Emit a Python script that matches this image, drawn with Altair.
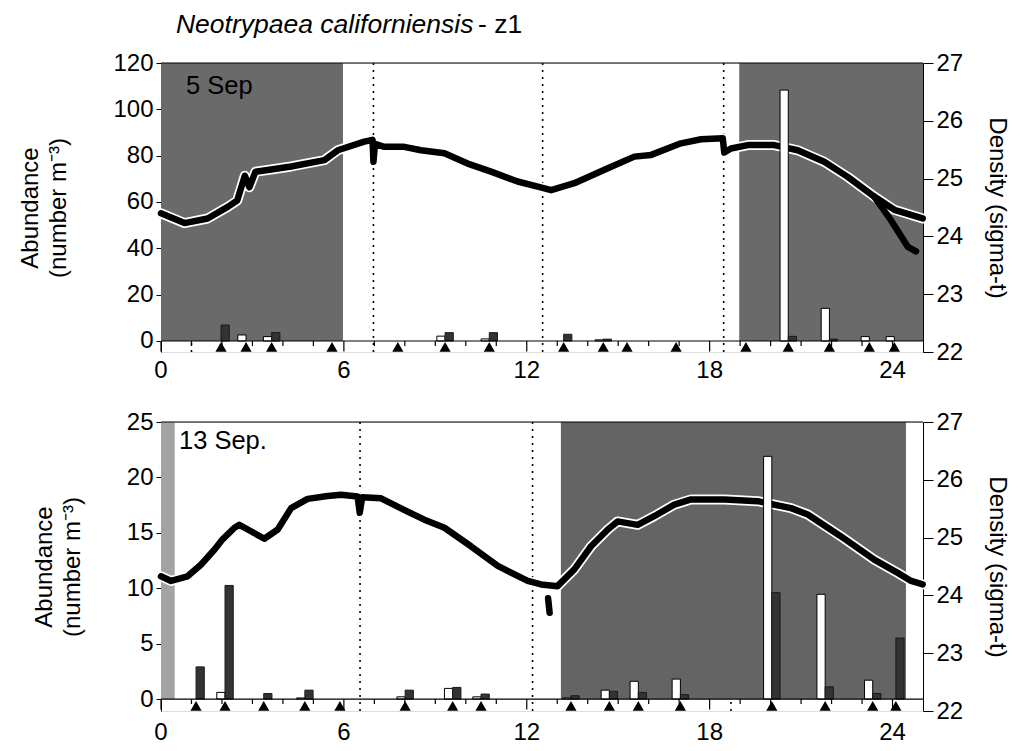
import altair as alt
import pandas as pd

FONT = "Liberation Sans"
X_DOMAIN = [0, 25]
X_LABELS = [0, 6, 12, 18, 24]
HOUR_TICKS = list(range(0, 25))
MAJOR_TICKS = [0, 6, 12, 18, 24]
BAR_W = 0.27
DENS_DOMAIN = [22, 27]
DENS_TICKS = [22, 23, 24, 25, 26, 27]

# ---------------- 5 Sep ----------------
A_NIGHT_START = [0.0, 18.97]
A_NIGHT_END = [5.97, 25.0]
A_NIGHT_COLOR = ["#6a6a6a", "#6a6a6a"]
A_TIDE = [1.0, 6.97, 12.52, 18.46]
A_SAMPLE_T = [1.97, 2.79, 3.63, 5.61, 7.77, 9.32, 10.77, 13.21, 14.51, 15.29,
              16.90, 19.19, 20.58, 21.93, 23.24, 24.06]
A_WHITE = [0, 2.6, 1.9, 0, 0, 2.1, 0.9, 0, 0.5, 0, 0, 0, 108.3, 14.1, 1.9, 1.9]
A_DARK = [6.9, 0, 3.6, 0, 0, 3.6, 3.6, 2.9, 0.8, 0, 0, 0, 2.0, 0.8, 0, 0]
A_DENS_T = [0, 0.77, 1.53, 2.19, 2.50, 2.75, 2.90, 3.10, 3.50, 4.27, 5.36, 5.80,
            6.67, 6.94, 6.97, 7.02, 7.33, 7.98, 8.53, 9.30, 10.06, 10.83, 11.70,
            12.36, 12.80, 13.56, 14.66, 15.53, 16.08, 17.06, 17.72, 18.43, 18.48,
            18.70, 19.25, 20.12, 20.89, 21.76, 22.53, 23.40, 24.06, 24.99]
A_DENS = [24.40, 24.23, 24.31, 24.51, 24.62, 25.05, 24.85, 25.12, 25.15, 25.21,
          25.32, 25.49, 25.64, 25.67, 25.29, 25.60, 25.55, 25.55, 25.49, 25.44,
          25.26, 25.12, 24.95, 24.86, 24.80, 24.92, 25.18, 25.38, 25.41, 25.61,
          25.68, 25.70, 25.45, 25.52, 25.58, 25.58, 25.49, 25.29, 25.03, 24.69,
          24.46, 24.31]
A_BRANCH_T = [23.40, 23.95, 24.50, 24.77]
A_BRANCH = [24.69, 24.28, 23.82, 23.74]
A_AB_DOMAIN = [-4.75, 120]
A_AB_TICKS = [0, 20, 40, 60, 80, 100, 120]

# ---------------- 13 Sep ----------------
B_NIGHT_START = [0.0, 13.12]
B_NIGHT_END = [0.45, 24.44]
B_NIGHT_COLOR = ["#a3a3a3", "#646464"]
B_TIDE = [6.53, 12.19, 18.70]
B_SAMPLE_T = [1.15, 2.10, 3.37, 4.72, 5.87, 8.01, 9.57, 10.50, 13.45, 14.71,
              15.66, 17.04, 20.04, 21.79, 23.35, 24.11]
B_WHITE = [0, 0.6, 0, 0.1, 0, 0.2, 0.96, 0.2, 0.1, 0.8, 1.6, 1.8, 21.9, 9.45, 1.7, 0]
B_DARK = [2.9, 10.25, 0.5, 0.8, 0, 0.8, 1.05, 0.45, 0.3, 0.7, 0.6, 0.4, 9.6, 1.1, 0.5, 5.5]
B_DENS_T = [0, 0.33, 0.87, 1.31, 1.75, 2.02, 2.41, 2.57, 2.95, 3.39, 3.83, 4.27,
            4.81, 5.47, 5.91, 6.45, 6.52, 6.60, 7.22, 8.09, 8.64, 9.30, 10.17,
            11.05, 12.03, 12.47, 13.01, 13.56, 14.11, 14.66, 14.98, 15.64, 16.18,
            16.84, 17.39, 18.48, 19.58, 20.67, 21.22, 22.31, 23.40, 24.17, 24.61,
            24.99]
B_DENS = [24.33, 24.25, 24.33, 24.53, 24.79, 24.97, 25.17, 25.22, 25.11, 24.98,
          25.14, 25.51, 25.67, 25.72, 25.74, 25.71, 25.43, 25.70, 25.68, 25.45,
          25.31, 25.17, 24.85, 24.51, 24.25, 24.19, 24.16, 24.45, 24.85, 25.14,
          25.28, 25.22, 25.37, 25.57, 25.66, 25.66, 25.63, 25.51, 25.40, 25.02,
          24.62, 24.39, 24.25, 24.19]
B_BRANCH_T = [12.70, 12.75]
B_BRANCH = [23.95, 23.70]
B_AB_DOMAIN = [-1.08, 25]
B_AB_TICKS = [0, 5, 10, 15, 20, 25]

W, H = 762, 289
FS = 24


def panel(night_s, night_e, night_c, tide, samp_t, white, dark, dens_t, dens,
          br_t, br, ab_domain, ab_ticks, date_label, date_x, date_y,
          tri_y, minor_len, major_len, xlab_y, title=None):
    xs = alt.Scale(domain=X_DOMAIN, nice=False, zero=False)
    ys = alt.Scale(domain=ab_domain, nice=False, zero=False)
    top = ab_ticks[-1]
    bottom = ab_domain[0]
    left_axis = alt.Axis(orient="left", values=ab_ticks, tickSize=5, grid=False,
                         domainColor="black", tickColor="black", labelColor="black",
                         labelFontSize=FS, labelPadding=3,
                         title=["Abundance", "(number m\u207b\u00b3)"],
                         titleFontSize=FS, titleFontWeight="normal",
                         titleColor="black", titlePadding=42, titleLineHeight=28)

    # background: tide lines and night shading
    tide_df = pd.DataFrame({"t": tide, "y0": bottom, "y1": top})
    tide_layer = alt.Chart(tide_df).mark_rule(color="black", strokeDash=[2, 5],
                                              strokeWidth=1.6).encode(
        x=alt.X("t:Q", scale=xs, axis=None),
        y=alt.Y("y0:Q", scale=ys, axis=left_axis),
        y2="y1:Q")
    night_df = pd.DataFrame({"s": night_s, "e": night_e, "c": night_c,
                             "y0": 0, "y1": top})
    night_layer = alt.Chart(night_df).mark_rect().encode(
        x=alt.X("s:Q", scale=xs, axis=None), x2="e:Q",
        y=alt.Y("y0:Q", scale=ys, axis=left_axis), y2="y1:Q",
        color=alt.Color("c:N", scale=None))
    bg = alt.layer(tide_layer, night_layer)

    # density line (right axis)
    right_axis = alt.Axis(orient="right", values=DENS_TICKS, tickSize=10, grid=False,
                          domainColor="black", tickColor="black", labelColor="black",
                          labelFontSize=FS, labelPadding=3,
                          title="Density (sigma-t)", titleFontSize=FS,
                          titleFontWeight="normal", titleColor="black",
                          titlePadding=22)
    dsc = alt.Scale(domain=DENS_DOMAIN, nice=False, zero=False)
    dens_df = pd.DataFrame({"t": dens_t, "d": dens})
    br_df = pd.DataFrame({"t": br_t, "d": br})
    enc = dict(x=alt.X("t:Q", scale=xs, axis=None),
               y=alt.Y("d:Q", scale=dsc, axis=right_axis))
    halo = alt.Chart(dens_df).mark_line(color="white", strokeWidth=10,
                                        strokeCap="round", strokeJoin="round").encode(**enc)
    line = alt.Chart(dens_df).mark_line(color="black", strokeWidth=6.5,
                                        strokeCap="round", strokeJoin="round").encode(**enc)
    brl = alt.Chart(br_df).mark_line(color="black", strokeWidth=6.5,
                                     strokeCap="round").encode(**enc)
    dens_layer = alt.layer(halo, line, brl)

    # foreground: bars, triangles, axis line, ticks, labels
    w_df = pd.DataFrame({"t": samp_t, "v": white})
    w_df = w_df[w_df.v > 0].assign(x0=lambda d: d.t - BAR_W, y0=0)
    d_df = pd.DataFrame({"t": samp_t, "v": dark})
    d_df = d_df[d_df.v > 0].assign(x1=lambda d: d.t + BAR_W, y0=0)
    xnone = lambda f: alt.X(f, scale=xs, axis=None)
    ynone = lambda f: alt.Y(f, scale=ys, axis=None)
    wbar = alt.Chart(w_df).mark_rect(fill="white", stroke="black", strokeWidth=1).encode(
        x=xnone("x0:Q"), x2="t:Q", y=ynone("y0:Q"), y2="v:Q")
    dbar = alt.Chart(d_df).mark_rect(fill="#333333", stroke="#1a1a1a", strokeWidth=1).encode(
        x=xnone("t:Q"), x2="x1:Q", y=ynone("y0:Q"), y2="v:Q")
    tri_df = pd.DataFrame({"t": samp_t, "y": tri_y})
    tri = alt.Chart(tri_df).mark_point(shape="triangle-up", filled=True, color="black",
                                       size=125, opacity=1).encode(
        x=xnone("t:Q"), y=ynone("y:Q"))
    tick_df = pd.DataFrame({"t": HOUR_TICKS,
                            "y1": [-(major_len if h in MAJOR_TICKS else minor_len)
                                   for h in HOUR_TICKS], "y0": 0})
    ticks = alt.Chart(tick_df).mark_rule(color="black", strokeWidth=1.2).encode(
        x=xnone("t:Q"), y=ynone("y0:Q"), y2="y1:Q")
    xl_df = pd.DataFrame({"t": X_LABELS, "y": xlab_y, "txt": [str(v) for v in X_LABELS]})
    xlabels = alt.Chart(xl_df).mark_text(font=FONT, fontSize=FS, align="center",
                                         baseline="top", color="black").encode(
        x=xnone("t:Q"), y=ynone("y:Q"), text="txt:N")
    frame_df = pd.DataFrame({"x0": [X_DOMAIN[0], X_DOMAIN[0]],
                             "x1": [X_DOMAIN[1], X_DOMAIN[1]],
                             "y": [0, top]})
    frame = alt.Chart(frame_df).mark_rule(color="black", strokeWidth=1.2).encode(
        x=xnone("x0:Q"), x2="x1:Q", y=ynone("y:Q"))
    lab_df = pd.DataFrame({"x": [date_x], "y": [date_y], "txt": [date_label]})
    lab = alt.Chart(lab_df).mark_text(font=FONT, fontSize=25.5, align="left",
                                      baseline="middle", color="black").encode(
        x=xnone("x:Q"), y=ynone("y:Q"), text="txt:N")
    fg_layers = [wbar, dbar, tri, ticks, xlabels, frame, lab]
    if title is not None:
        t_df = pd.DataFrame({"x": [title[0][1]], "y": [title[0][2]], "txt": [title[0][0]]})
        t2_df = pd.DataFrame({"x": [title[1][1]], "y": [title[1][2]], "txt": [title[1][0]]})
        fg_layers.append(alt.Chart(t_df).mark_text(
            font=FONT, fontSize=26.5, fontStyle="italic", align="left",
            baseline="middle", color="black").encode(
            x=xnone("x:Q"), y=ynone("y:Q"), text="txt:N"))
        fg_layers.append(alt.Chart(t2_df).mark_text(
            font=FONT, fontSize=26.5, align="left", baseline="middle",
            color="black").encode(
            x=xnone("x:Q"), y=ynone("y:Q"), text="txt:N"))
    fg = alt.layer(*fg_layers)

    return alt.layer(bg, dens_layer, fg).resolve_scale(y="independent").properties(
        width=W, height=H)


top_panel = panel(A_NIGHT_START, A_NIGHT_END, A_NIGHT_COLOR, A_TIDE, A_SAMPLE_T,
                  A_WHITE, A_DARK, A_DENS_T, A_DENS, A_BRANCH_T, A_BRANCH,
                  A_AB_DOMAIN, A_AB_TICKS, "5 Sep", 0.82, 110, -2.55, 2.2, 4.5,
                  -7.9,
                  title=[("Neotrypaea californiensis", 0.49, 136.5),
                         ("- z1", 10.40, 136.5)])
bottom_panel = panel(B_NIGHT_START, B_NIGHT_END, B_NIGHT_COLOR, B_TIDE, B_SAMPLE_T,
                     B_WHITE, B_DARK, B_DENS_T, B_DENS, B_BRANCH_T, B_BRANCH,
                     B_AB_DOMAIN, B_AB_TICKS, "13 Sep.", 0.59, 23.3, -0.62, 0.45, 0.95,
                     -1.96)

chart = alt.vconcat(top_panel, bottom_panel, spacing=25).properties(
    padding={"left": 18, "top": 11, "right": 5, "bottom": 0}
).configure_view(stroke=None).configure_axis(
    labelFont=FONT, titleFont=FONT
).configure(background="white")

chart.save("out.html", embed_options={"renderer": "svg", "actions": False})
